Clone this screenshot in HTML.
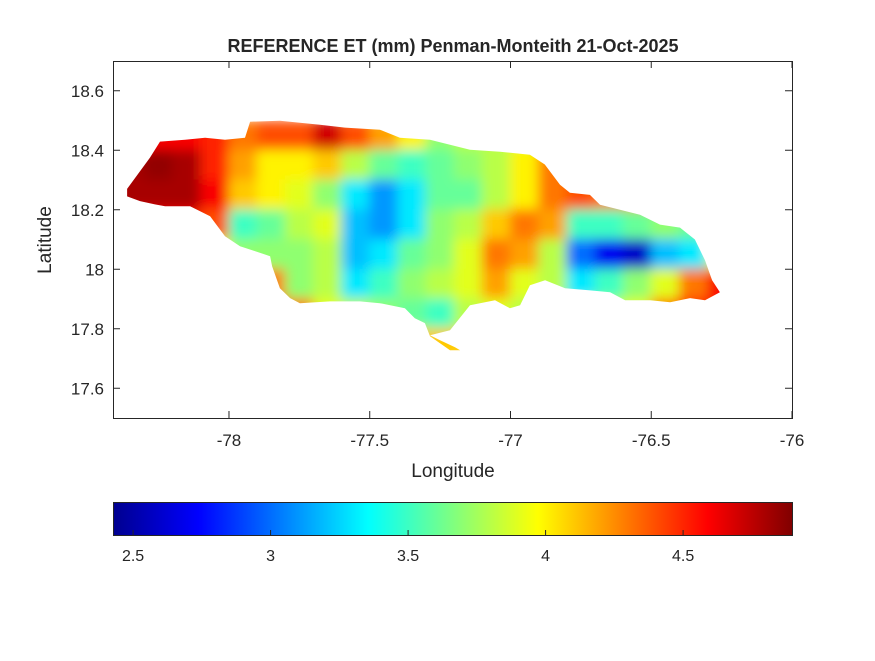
<!DOCTYPE html>
<html><head><meta charset="utf-8"><style>
body{margin:0;background:#fff;}
svg text{font-family:"Liberation Sans",sans-serif;fill:#262626;}
</style></head><body>
<svg id="chart" width="875" height="656" viewBox="0 0 875 656" xmlns="http://www.w3.org/2000/svg">
<defs>
<filter id="blur" x="-10%" y="-10%" width="120%" height="120%"><feGaussianBlur stdDeviation="6"/></filter>
<clipPath id="island"><polygon id="islandPoly"/></clipPath>
<linearGradient id="jet" x1="0" x2="1" y1="0" y2="0">
<stop offset="0" stop-color="#00008f"/><stop offset="0.125" stop-color="#0000ff"/><stop offset="0.375" stop-color="#00ffff"/><stop offset="0.625" stop-color="#ffff00"/><stop offset="0.875" stop-color="#ff0000"/><stop offset="1" stop-color="#800000"/>
</linearGradient>
</defs>
<rect x="0" y="0" width="875" height="656" fill="#fff"/>
<g id="mapLayer" clip-path="url(#island)"><g id="cells" filter="url(#blur)"></g></g>
<rect x="113.5" y="61.5" width="679" height="357" fill="none" stroke="#262626" stroke-width="1"/>
<g id="axes"></g>
<text x="453" y="52" font-size="18" font-weight="bold" text-anchor="middle">REFERENCE ET (mm) Penman-Monteith 21-Oct-2025</text>
<text x="453" y="477" font-size="19" text-anchor="middle">Longitude</text>
<text transform="translate(51,240) rotate(-90)" font-size="19" text-anchor="middle">Latitude</text>
<rect x="113.5" y="502.5" width="679" height="33" fill="url(#jet)" stroke="#262626" stroke-width="1"/>
<g id="cbticks"></g>
</svg>
<script>
const lons=[-78.35,-78.25,-78.15,-78.05,-77.95,-77.85,-77.75,-77.65,-77.55,-77.45,-77.35,-77.25,-77.15,-77.05,-76.95,-76.85,-76.75,-76.65,-76.55,-76.45,-76.35,-76.25];
const lats=[18.45,18.35,18.25,18.15,18.05,17.95,17.85,17.75];
const etValues=[
[4.6,4.6,4.6,4.5,4.3,4.4,4.4,4.7,4.4,4.2,4.0,3.7,3.8,3.8,3.9,4.2,4.3,4.3,4.3,4.3,4.1,4.1],
[4.8,4.85,4.8,4.5,4.2,4.0,4.0,4.1,3.8,3.6,3.5,3.6,3.7,3.8,4.0,4.3,4.4,4.4,4.3,4.3,4.1,4.0],
[4.8,4.8,4.8,4.6,4.1,4.0,3.9,3.7,3.3,3.1,3.3,3.6,3.6,3.8,4.0,4.3,4.4,4.3,4.3,4.3,4.1,4.0],
[4.6,4.6,4.6,4.4,3.5,3.6,3.8,3.9,3.2,3.1,3.3,3.7,3.8,4.1,4.3,4.2,3.5,3.5,3.6,3.7,3.6,3.8],
[4.5,4.5,4.3,4.0,3.7,3.7,3.7,3.8,3.2,3.3,3.6,3.7,3.9,4.3,4.2,3.8,3.0,2.7,2.6,3.2,3.3,3.9],
[4.3,4.3,4.3,4.3,4.3,4.3,3.7,3.8,3.3,3.5,3.7,3.8,3.9,4.2,3.9,3.8,3.3,3.5,3.7,3.9,4.3,4.6],
[4.4,4.4,4.4,4.4,4.4,4.4,4.3,3.9,3.8,3.7,3.6,3.5,3.8,3.9,3.8,3.8,3.8,3.8,3.9,4.3,4.5,4.6],
[4.1,4.1,4.1,4.1,4.1,4.1,4.1,4.1,4.1,4.1,4.1,4.1,4.1,4.1,4.1,4.1,4.1,4.1,4.1,4.1,4.1,4.1]];
const xTicks=[-78,-77.5,-77,-76.5,-76];
const yTicks=[18.6,18.4,18.2,18,17.8,17.6];
const cbTicks=[2.5,3,3.5,4,4.5];
const outline=[[-78.362,18.27],[-78.281,18.375],[-78.245,18.429],[-78.156,18.435],[-78.085,18.442],[-78.014,18.435],[-77.943,18.442],[-77.925,18.496],[-77.819,18.499],[-77.677,18.486],[-77.588,18.476],[-77.464,18.469],[-77.393,18.442],[-77.286,18.435],[-77.144,18.402],[-77.037,18.395],[-76.931,18.385],[-76.878,18.352],[-76.824,18.284],[-76.789,18.257],[-76.718,18.25],[-76.682,18.217],[-76.611,18.2],[-76.540,18.183],[-76.469,18.15],[-76.398,18.14],[-76.345,18.1],[-76.309,18.03],[-76.284,17.963],[-76.256,17.923],[-76.309,17.896],[-76.362,17.903],[-76.433,17.889],[-76.504,17.896],[-76.593,17.896],[-76.646,17.923],[-76.717,17.929],[-76.806,17.936],[-76.877,17.963],[-76.931,17.946],[-76.966,17.879],[-77.002,17.869],[-77.055,17.896],[-77.144,17.879],[-77.18,17.836],[-77.215,17.795],[-77.286,17.778],[-77.251,17.762],[-77.197,17.738],[-77.179,17.728],[-77.215,17.728],[-77.286,17.775],[-77.304,17.819],[-77.34,17.835],[-77.375,17.869],[-77.464,17.886],[-77.535,17.892],[-77.641,17.892],[-77.748,17.886],[-77.783,17.903],[-77.819,17.936],[-77.847,18.01],[-77.854,18.044],[-77.908,18.061],[-77.961,18.077],[-78.014,18.111],[-78.067,18.178],[-78.138,18.212],[-78.227,18.212],[-78.263,18.218],[-78.316,18.229],[-78.362,18.245]];

const X0=113,X1=792,Y0=61,Y1=418,LON0=-78.412,LON1=-76,LAT0=17.5,LAT1=18.7;
const CB0=2.427,CB1=4.896;
const xs=v=>X0+(v-LON0)/(LON1-LON0)*(X1-X0);
const ys=v=>Y1-(v-LAT0)/(LAT1-LAT0)*(Y1-Y0);
const cs=v=>X0+(v-CB0)/(CB1-CB0)*(X1-X0);
function jet(v){let t=(v-CB0)/(CB1-CB0);t=Math.max(0,Math.min(1,t));
 const f=x=>Math.max(0,Math.min(1,1.5-Math.abs(4*t-x)));
 return `rgb(${Math.round(255*f(3))},${Math.round(255*f(2))},${Math.round(255*f(1))})`;}
const NS="http://www.w3.org/2000/svg";
function mk(tag,attrs,parent){const e=document.createElementNS(NS,tag);for(const k in attrs)e.setAttribute(k,attrs[k]);parent.appendChild(e);return e;}
document.getElementById('islandPoly').setAttribute('points',outline.map(p=>xs(p[0]).toFixed(1)+','+ys(p[1]).toFixed(1)).join(' '));
const cells=document.getElementById('cells');
const dx=xs(lons[1])-xs(lons[0]),dy=ys(lats[1])-ys(lats[0]);
lats.forEach((la,j)=>lons.forEach((lo,i)=>{
 const r=mk('rect',{x:xs(lo)-dx/2-0.5,y:ys(la)-dy/2-0.5,width:dx+1,height:dy+1,fill:jet(etValues[j][i])},cells);
 
 
}));
const ax=document.getElementById('axes');
xTicks.forEach(v=>{const x=xs(v);
 mk('line',{x1:x,x2:x,y1:418,y2:411,stroke:'#262626'},ax);
 mk('line',{x1:x,x2:x,y1:61,y2:68,stroke:'#262626'},ax);
 const t=mk('text',{x:x,y:446,'font-size':17,'text-anchor':'middle'},ax);t.textContent=String(v);
 
 });
yTicks.forEach(v=>{const y=ys(v);
 mk('line',{x1:113,x2:120,y1:y,y2:y,stroke:'#262626'},ax);
 mk('line',{x1:792,x2:785,y1:y,y2:y,stroke:'#262626'},ax);
 const t=mk('text',{x:104,y:y+6,'font-size':17,'text-anchor':'end'},ax);t.textContent=String(v);
 
 });
const cb=document.getElementById('cbticks');
cbTicks.forEach(v=>{const x=cs(v);
 mk('line',{x1:x,x2:x,y1:535,y2:530,stroke:'#262626'},cb);
 const t=mk('text',{x:x,y:561,'font-size':16,'text-anchor':'middle'},cb);t.textContent=String(v);
 
 });
</script>
</body></html>
